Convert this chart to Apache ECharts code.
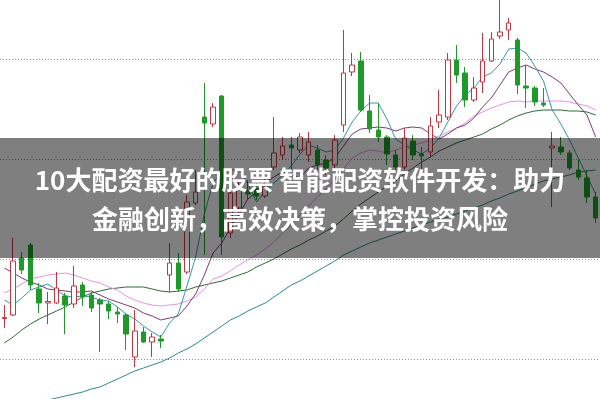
<!DOCTYPE html>
<html>
<head>
<meta charset="utf-8">
<script src="https://cdn.jsdelivr.net/npm/echarts@6/dist/echarts.min.js"></script>
<style>
  html, body { margin: 0; padding: 0; background: #fff; }
  #chart { width: 600px; height: 399px; }
</style>
</head>
<body>
<div id="chart"></div>
<script>
// Trading sessions (not labelled on the chart)
const days = ['1','2','3','4','5','6','7','8','9','10','11','12','13','14','15','16','17','18','19','20',
  '21','22','23','24','25','26','27','28','29','30','31','32','33','34','35','36','37','38','39','40',
  '41','42','43','44','45','46','47','48','49','50','51','52','53','54','55','56','57','58','59','60',
  '61','62','63','64','65','66','67','68','69'];

// Daily prices
const open = [9.405,9.44,10.01,10.14,9.70,9.56,9.56,9.63,9.55,9.74,9.64,9.59,9.55,9.47,9.44,9.02,9.27,9.17,9.20,9.84,
  9.96,9.87,10.56,11.42,11.35,11.63,10.26,10.51,10.69,10.71,10.63,10.92,11.04,11.14,11.09,11.04,11.09,10.99,10.94,11.34,
  11.87,11.98,11.48,11.29,11.22,11.04,10.92,11.18,11.05,11.07,11.37,11.42,11.99,11.86,11.59,11.77,11.98,12.23,12.29,12.19,
  11.73,11.71,11.56,11.11,11.12,11.06,10.89,10.81,10.62];
const close = [9.415,9.98,9.89,9.74,9.56,9.575,9.71,9.54,9.73,9.62,9.51,9.55,9.48,9.45,9.25,9.28,9.17,9.22,9.18,9.96,
  9.70,10.57,10.67,11.36,11.52,10.22,10.66,10.71,10.65,10.63,10.73,11.06,11.13,11.11,11.22,11.17,10.94,10.91,11.19,11.86,
  11.94,11.49,11.30,11.22,11.05,10.92,11.21,11.04,11.03,11.33,11.44,11.99,11.84,11.59,11.71,11.98,12.20,12.27,12.36,11.74,
  11.71,11.57,11.54,11.13,11.07,10.91,10.82,10.62,10.41];
const low = [9.31,9.43,9.85,9.69,9.46,9.35,9.55,9.25,9.51,9.53,9.47,9.07,9.40,9.36,9.09,8.92,9.16,9.02,9.11,9.67,
  9.67,9.85,10.54,10.04,11.32,10.04,10.21,10.47,10.59,10.59,10.61,10.89,10.99,10.89,11.06,10.97,10.89,10.84,10.91,11.27,
  11.83,11.47,11.26,11.17,10.94,10.87,10.89,10.99,10.89,11.02,11.31,11.39,11.76,11.52,11.57,11.66,11.97,12.20,12.19,11.65,
  11.51,11.53,11.52,10.52,11.04,10.89,10.79,10.56,10.36];
const high = [9.54,10.21,10.07,10.16,9.76,9.67,9.87,9.66,9.93,9.77,9.67,9.61,9.58,9.52,9.46,9.49,9.32,9.26,9.24,10.16,
  10.06,10.64,10.89,11.76,11.56,11.64,10.71,10.79,10.79,10.76,10.81,11.42,11.22,11.22,11.26,11.27,11.14,11.04,11.24,12.29,
  12.06,12.07,11.64,11.56,11.24,11.09,11.31,11.24,11.12,11.42,11.69,12.06,12.14,11.92,11.82,12.26,12.27,12.64,12.41,12.21,
  11.94,11.73,11.71,11.27,11.22,11.09,10.99,10.89,10.67];

// Moving averages
const ma5 = [9.59,9.54,9.61,9.69,9.72,9.75,9.69,9.63,9.62,9.63,9.62,9.59,9.58,9.52,9.45,9.40,9.33,9.27,9.22,9.36,
  9.45,9.73,10.02,10.45,10.76,10.87,10.89,10.89,10.75,10.57,10.68,10.76,10.84,10.93,11.05,11.14,11.11,11.07,11.09,11.21,
  11.37,11.48,11.56,11.56,11.40,11.20,11.14,11.09,11.05,11.11,11.21,11.37,11.53,11.64,11.71,11.82,11.86,11.95,12.10,12.11,
  12.06,11.93,11.78,11.49,11.35,11.19,11.01,10.83,10.65];
const ma10 = [9.91,9.86,9.81,9.77,9.74,9.70,9.69,9.68,9.67,9.67,9.68,9.64,9.60,9.57,9.54,9.51,9.46,9.43,9.39,9.41,
  9.43,9.53,9.65,9.84,10.06,10.16,10.31,10.45,10.60,10.67,10.77,10.82,10.87,10.84,10.81,10.91,10.94,10.96,11.01,11.13,
  11.25,11.30,11.31,11.32,11.31,11.28,11.31,11.32,11.31,11.25,11.20,11.25,11.31,11.34,11.41,11.52,11.61,11.74,11.87,11.91,
  11.94,11.90,11.87,11.82,11.76,11.65,11.54,11.44,11.22];
const ma20 = [9.66,9.70,9.75,9.80,9.82,9.84,9.85,9.86,9.84,9.81,9.78,9.76,9.72,9.69,9.63,9.59,9.56,9.54,9.53,9.54,
  9.55,9.58,9.62,9.70,9.80,9.83,9.88,9.94,9.99,10.04,10.10,10.17,10.26,10.34,10.44,10.53,10.62,10.70,10.80,10.90,
  11.01,11.06,11.09,11.08,11.06,11.09,11.12,11.14,11.16,11.19,11.23,11.27,11.31,11.36,11.43,11.47,11.51,11.54,11.57,11.58,
  11.57,11.58,11.58,11.58,11.58,11.57,11.55,11.53,11.49];
const ma30 = [9.16,9.22,9.29,9.35,9.40,9.44,9.48,9.52,9.57,9.62,9.66,9.68,9.70,9.71,9.72,9.72,9.72,9.70,9.68,9.67,
  9.68,9.69,9.72,9.74,9.76,9.78,9.81,9.84,9.87,9.92,9.96,10.00,10.05,10.10,10.14,10.19,10.23,10.28,10.33,10.40,
  10.48,10.55,10.61,10.67,10.73,10.78,10.85,10.91,10.97,11.02,11.08,11.12,11.16,11.19,11.22,11.25,11.30,11.34,11.39,11.43,
  11.46,11.48,11.49,11.49,11.49,11.48,11.48,11.47,11.44];
const ma120 = [8.45,8.48,8.51,8.54,8.57,8.59,8.61,8.63,8.65,8.67,8.70,8.72,8.76,8.80,8.84,8.88,8.91,8.94,8.97,9.01,
  9.06,9.10,9.15,9.21,9.27,9.33,9.39,9.43,9.48,9.52,9.56,9.62,9.68,9.74,9.78,9.83,9.88,9.93,9.98,10.04,
  10.08,10.12,10.16,10.19,10.22,10.25,10.28,10.31,10.34,10.37,10.40,10.42,10.45,10.48,10.51,10.54,10.58,10.61,10.65,10.68,
  10.71,10.75,10.78,10.80,10.82,10.84,10.87,10.88,10.89];

// Price grid levels
const priceTicks = [9, 10, 11, 12];

const headline = '10大配资最好的股票 智能配资软件开发：助力';
const subline = '金融创新，高效决策，掌控投资风险';

const candles = open.map((o, i) => [o, close[i], low[i], high[i]]);

function maSeries(name, data, color) {
  return {
    name, type: 'line', data, symbol: 'none', clip: false, silent: true,
    lineStyle: { color, width: 1 }, z: 3
  };
}

const chart = echarts.init(document.getElementById('chart'), null, { renderer: 'canvas' });
chart.setOption({
  animation: false,
  backgroundColor: '#ffffff',
  grid: { left: 0, top: 59, width: 604, height: 300, containLabel: false },
  xAxis: {
    type: 'category', data: days, boundaryGap: true,
    axisLine: { show: false }, axisTick: { show: false }, axisLabel: { show: false },
    splitLine: { show: false }
  },
  yAxis: {
    type: 'value', min: priceTicks[0], max: priceTicks[priceTicks.length - 1], interval: 1,
    axisLine: { show: false }, axisTick: { show: false }, axisLabel: { show: false },
    splitLine: { show: true, lineStyle: { color: '#8c8c8c', width: 1, type: [1, 2] } }
  },
  series: [
    maSeries('MA120', ma120, '#2b8a8c'),
    maSeries('MA30', ma30, '#2f6a34'),
    maSeries('MA20', ma20, '#e394e6'),
    maSeries('MA10', ma10, '#7b3c78'),
    maSeries('MA5', ma5, '#3a97a8'),
    {
      name: 'K', type: 'candlestick', data: candles, barWidth: 5, clip: false, z: 4,
      itemStyle: {
        color: '#ffffff', color0: '#1f9a2a',
        borderColor: '#c9343f', borderColor0: '#1f9a2a', borderWidth: 1
      }
    }
  ],
  graphic: [
    { type: 'rect', z: 100, shape: { x: 0, y: 138, width: 600, height: 120 },
      style: { fill: 'rgba(0,0,0,0.5)' } },
    { type: 'text', z: 101, x: 300, y: 180,
      style: { text: headline, fill: '#ffffff', align: 'center', verticalAlign: 'middle',
               font: 'bold 26px "Noto Sans CJK SC", sans-serif' } },
    { type: 'text', z: 101, x: 300, y: 219,
      style: { text: subline, fill: '#ffffff', align: 'center', verticalAlign: 'middle',
               font: 'bold 26px "Noto Sans CJK SC", sans-serif' } }
  ]
});
</script>
</body>
</html>
